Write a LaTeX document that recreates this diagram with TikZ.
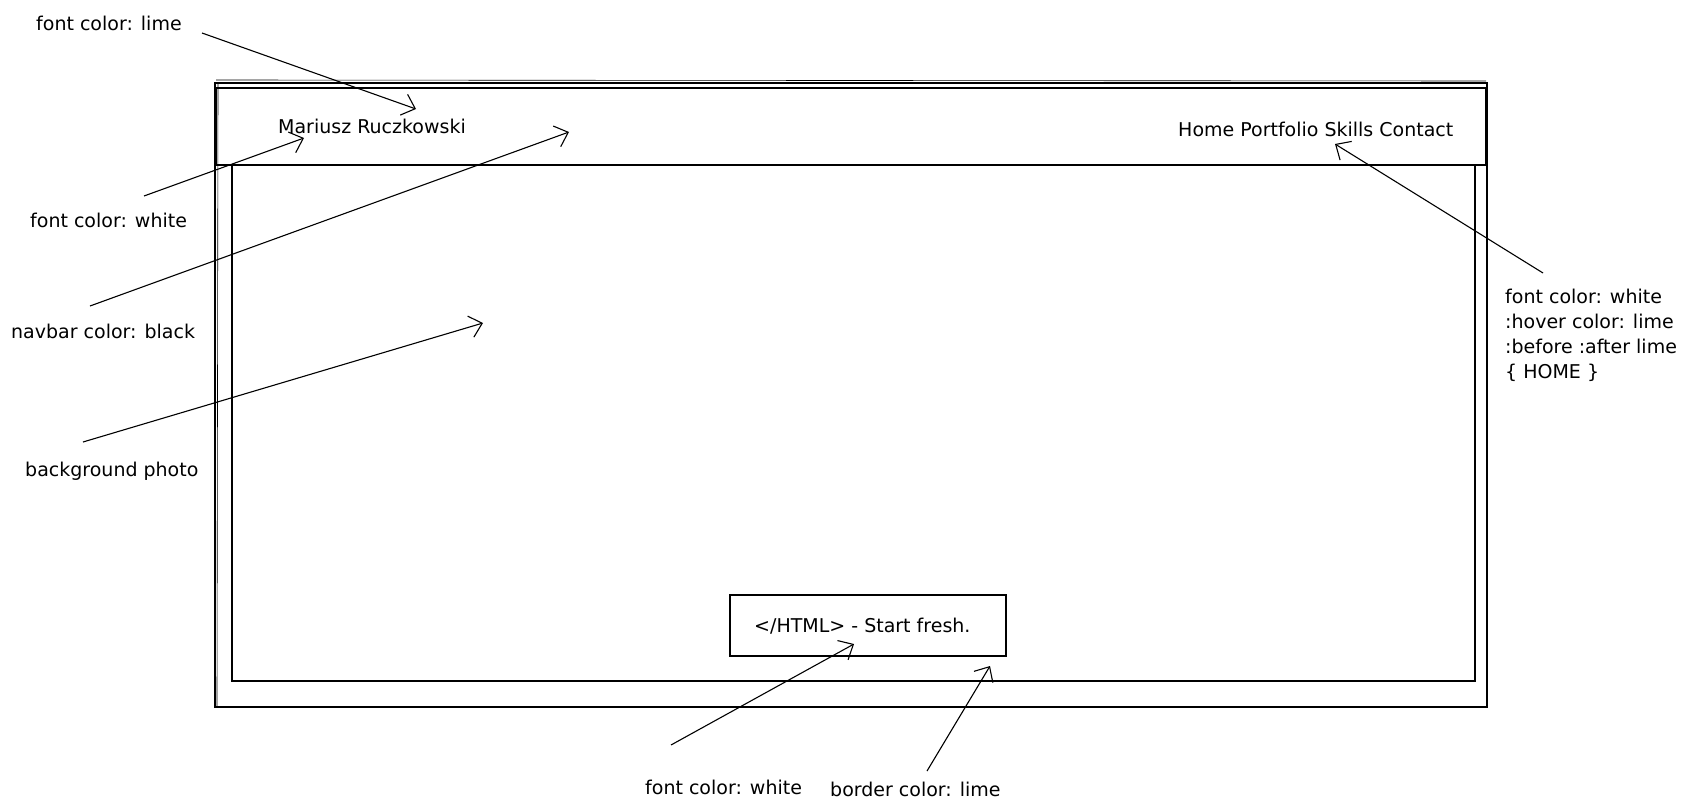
\documentclass[tikz,border=0pt]{standalone}
\usepackage{fontspec}
\setmainfont{DejaVu Sans}
\usetikzlibrary{arrows.meta}
\tikzset{
  sk/.style={line width=1.1pt, black},
  lbl/.style={anchor=west, inner sep=0pt, font=\fontsize{19}{23}\selectfont},
  pointer/.style={line width=1.1pt, -{Straight Barb[length=12pt,width=22pt,line width=1.1pt]}},
}
\begin{document}
\begin{tikzpicture}[x=1pt,y=-1pt]
\useasboundingbox[fill=white] (0,0) rectangle (1694,811);
% outer frame (sketchy double)
\draw[sk] (215,83) rectangle (1487,707);
\draw[sk, line width=0.6pt] (216,80) -- (1486,81);
\draw[sk, line width=0.6pt] (218,82) -- (217,706);
% navbar
\draw[sk] (216,88) rectangle (1486,165);
% body
\draw[sk] (232,165) rectangle (1475,681);
% button
\draw[sk] (730,595) rectangle (1006,656);

% texts
\node[lbl] (tLime) at (36,23) {font color: lime};
\node[lbl] (tName) at (278,126) {Mariusz Ruczkowski};
\node[lbl] (tMenu) at (1178,129) {Home Portfolio Skills Contact};
\node[lbl] (tWhite) at (30,220) {font color: white};
\node[lbl] (tNav) at (11,331) {navbar color: black};
\node[lbl] (tBg) at (25,471) {background photo};
\node[lbl, align=left, font=\fontsize{19}{25}\selectfont] (tHover) at (1505,335) {font color: white\\:hover color: lime\\:before :after lime\\\{ HOME \}};
\node[lbl] (tBtn) at (754,626) {</HTML> - Start fresh.};
\node[lbl] (tBW) at (645,787) {font color: white};
\node[lbl] (tBorder) at (830,789) {border color: lime};

% arrow endpoints
\coordinate (a1s) at (202,33);  \coordinate (a1e) at (416,109);
\coordinate (a2s) at (144,196); \coordinate (a2e) at (304,138);
\coordinate (a3s) at (90,306);  \coordinate (a3e) at (569,132);
\coordinate (a4s) at (83,442);  \coordinate (a4e) at (483,323);
\coordinate (a5s) at (1543,273); \coordinate (a5e) at (1335,144);
\coordinate (a6s) at (671,745); \coordinate (a6e) at (854,644);
\coordinate (a7s) at (927,771); \coordinate (a7e) at (990,666);

\draw[pointer] (a1s) -- (a1e);
\draw[pointer] (a2s) -- (a2e);
\draw[pointer] (a3s) -- (a3e);
\draw[pointer] (a4s) -- (a4e);
\draw[pointer] (a5s) -- (a5e);
\draw[pointer] (a6s) -- (a6e);
\draw[pointer] (a7s) -- (a7e);
\end{tikzpicture}
\end{document}
